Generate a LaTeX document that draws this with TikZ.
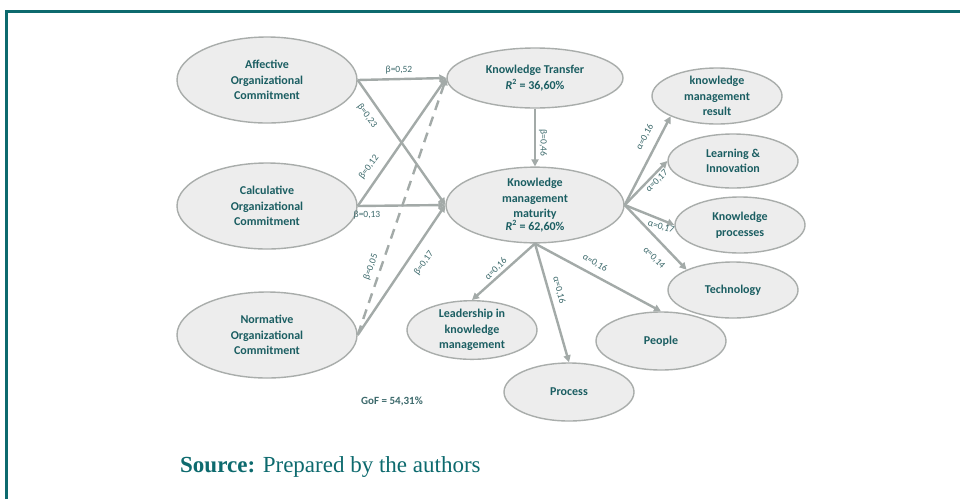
\documentclass[tikz,border=0pt]{standalone}
\usepackage{fontspec}
\setmainfont{Carlito}
\newfontfamily\srcfont{Liberation Serif}
\usetikzlibrary{shapes.geometric,arrows.meta}
\definecolor{frameteal}{HTML}{0D6A6E}
\definecolor{nodetext}{HTML}{1B5E62}
\definecolor{lbltext}{HTML}{3D6A6C}
\definecolor{edgegray}{HTML}{A3AAA8}
\definecolor{rimgray}{HTML}{A9ADAB}
\definecolor{fillgray}{HTML}{EDEDED}
\begin{document}
\begin{tikzpicture}[x=1pt,y=-1pt,
  cons/.style={ellipse,draw=rimgray,fill=fillgray,line width=1.4pt,inner sep=0pt,
    text=nodetext,align=center,font=\fontsize{12}{15.5}\selectfont\bfseries},
  big/.style={cons,minimum width=180pt,minimum height=86pt},
  small/.style={cons,minimum width=130pt,minimum height=56pt},
  lbl/.style={text=lbltext,font=\fontsize{9.5}{11}\selectfont,inner sep=1pt},
  path/.style={draw=edgegray,line width=2.4pt,-{Triangle[length=7pt,width=7pt]}}]
\useasboundingbox[fill=white] (0,0) rectangle (960,499);
% frame
\draw[frameteal,line width=3pt] (6,499)--(6,11)--(960,11);
% constructs
\node[big] (aff) at (267,80) {Affective\\Organizational\\Commitment};
\node[big] (cal) at (267,206) {Calculative\\Organizational\\Commitment};
\node[big] (nor) at (267,335) {Normative\\Organizational\\Commitment};
\node[cons,minimum width=176pt,minimum height=60pt] (kt) at (535,78)
  {Knowledge Transfer\\\textit{R}\textsuperscript{2} = 36,60\%};
\node[cons,minimum width=178pt,minimum height=68pt] (kmm) at (535,205)
  {Knowledge\\management\\maturity\\[-3pt]\textit{R}\textsuperscript{2} = 62,60\%};
\node[small] (res) at (717,96) {knowledge\\management\\result};
\node[small,minimum height=54pt] (lrn) at (733,161) {Learning \&\\Innovation};
\node[small] (kpr) at (740,225) {Knowledge\\processes};
\node[small] (tech) at (733,290) {Technology};
\node[small,minimum height=58pt] (ppl) at (661,341) {People};
\node[small,minimum height=58pt] (proc) at (569,392) {Process};
\node[small] (lead) at (472,330) {Leadership in\\knowledge\\management};
% paths
\draw[path] (aff.east)--(kt.west);
\draw[path] (aff.east)--(kmm.west);
\draw[path] (cal.east)--(kt.west);
\draw[path] (cal.east)--(kmm.west);
\draw[path,dash pattern=on 10pt off 7pt] (nor.east)--(kt.west);
\draw[path] (nor.east)--(kmm.west);
\draw[path] (kt.south)--(kmm.north);
\draw[path] (kmm.east)--(res.south west);
\draw[path] (kmm.east)--(lrn.west);
\draw[path] (kmm.east)--(kpr.west);
\draw[path] (kmm.east)--(tech.north west);
\draw[path] (kmm.south)--(lead.north);
\draw[path] (kmm.south)--(proc.north);
\draw[path] (kmm.south)--(ppl.north);
% coefficients
\node[lbl] (b52) at (399,70) {β=0,52};
\node[lbl,rotate=-53] (b23) at (367,116) {β=0,23};
\node[lbl,rotate=53] (b12) at (369,167) {β=0,12};
\node[lbl] (b13) at (367,215) {β=0,13};
\node[lbl,rotate=70] (b05) at (371,267) {β=0,05};
\node[lbl,rotate=54] (b17) at (424,263) {β=0,17};
\node[lbl,rotate=-90] (b46) at (543,143) {β=0,46};
\node[lbl,rotate=62] (a16r) at (645,137) {α=0,16};
\node[lbl,rotate=44] (a17l) at (657,181) {α=0,17};
\node[lbl,rotate=-17] (a17k) at (661,227) {α=0,17};
\node[lbl,rotate=-46] (a14) at (654,258) {α=0,14};
\node[lbl,rotate=45] (a16l) at (496,269) {α=0,16};
\node[lbl,rotate=-76] (a16p) at (559,290) {α=0,16};
\node[lbl,rotate=-31] (a16e) at (595,263) {α=0,16};
\node[text=lbltext,font=\fontsize{11}{13}\selectfont\bfseries] (gof) at (392,401) {GoF = 54,31\%};
% source
\node[anchor=west,inner sep=0pt,text=frameteal,font=\srcfont\fontsize{23}{26}\selectfont] (src) at (180,467)
  {\textbf{Source:} Prepared by the authors};
\end{tikzpicture}
\end{document}
